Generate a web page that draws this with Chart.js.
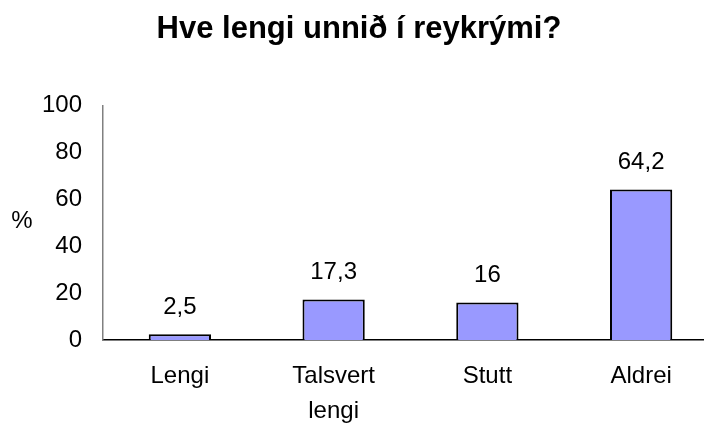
<!DOCTYPE html>
<html>
<head>
<meta charset="utf-8">
<script src="https://cdn.jsdelivr.net/npm/chart.js@4.4.0/dist/chart.umd.min.js"></script>
<style>
html,body{margin:0;padding:0;background:#fff;overflow:hidden;}
#wrap{width:718px;height:423px;position:relative;}
</style>
</head>
<body>
<div id="wrap"><canvas id="c"></canvas></div>
<script>
const titleText = "Hve lengi unnið í reykrými?";
const categories = ["Lengi", ["Talsvert", "lengi"], "Stutt", "Aldrei"];
const values = [2.5, 17.3, 16, 64.2];
const yTicks = [0, 20, 40, 60, 80, 100];
const yUnit = "%";

const FONT = "'Liberation Sans', Arial, sans-serif";

const labelPlugin = {
  id: 'valueLabels',
  afterDatasetsDraw(chart) {
    const ctx = chart.ctx;
    const meta = chart.getDatasetMeta(0);
    ctx.save();
    ctx.font = "24px " + FONT;
    ctx.fillStyle = "#000";
    ctx.textAlign = "center";
    ctx.textBaseline = "middle";
    meta.data.forEach((bar, i) => {
      const txt = String(values[i]).replace('.', ',');
      ctx.fillText(txt, bar.x, bar.y - 27);
    });
    ctx.fillText(yUnit, 22, 221);
    ctx.restore();
  }
};

new Chart(document.getElementById('c'), {
  type: 'bar',
  data: {
    labels: categories,
    datasets: [{
      data: values,
      backgroundColor: '#9999FF',
      borderColor: '#000000',
      borderWidth: 2,
      barPercentage: 0.405,
      categoryPercentage: 1.0
    }]
  },
  options: {
    responsive: true,
    maintainAspectRatio: false,
    animation: false,
    layout: { padding: 0 },
    plugins: {
      legend: { display: false },
      tooltip: { enabled: false },
      title: {
        display: true,
        text: titleText,
        color: '#000',
        font: { family: FONT, size: 31, weight: 'bold', lineHeight: 1.2 },
        padding: { top: 10.4, bottom: 57.9 }
      }
    },
    scales: {
      x: {
        grid: { display: false, drawTicks: false },
        border: { display: true, color: '#000', width: 1.5 },
        ticks: {
          color: '#000',
          font: { family: FONT, size: 24, lineHeight: 1.46 },
          padding: 19,
          maxRotation: 0,
          autoSkip: false
        },
        afterFit(scale) { scale.height = 83; }
      },
      y: {
        min: 0,
        max: 100,
        afterBuildTicks(scale) { scale.ticks = yTicks.map(v => ({ value: v })); },
        grid: { display: false, drawTicks: false },
        border: { display: true, color: '#808080', width: 1.5 },
        ticks: {
          color: '#000',
          font: { family: FONT, size: 24 },
          padding: 21
        },
        afterFit(scale) { scale.width = 103; }
      }
    }
  },
  plugins: [labelPlugin]
});
</script>
</body>
</html>
